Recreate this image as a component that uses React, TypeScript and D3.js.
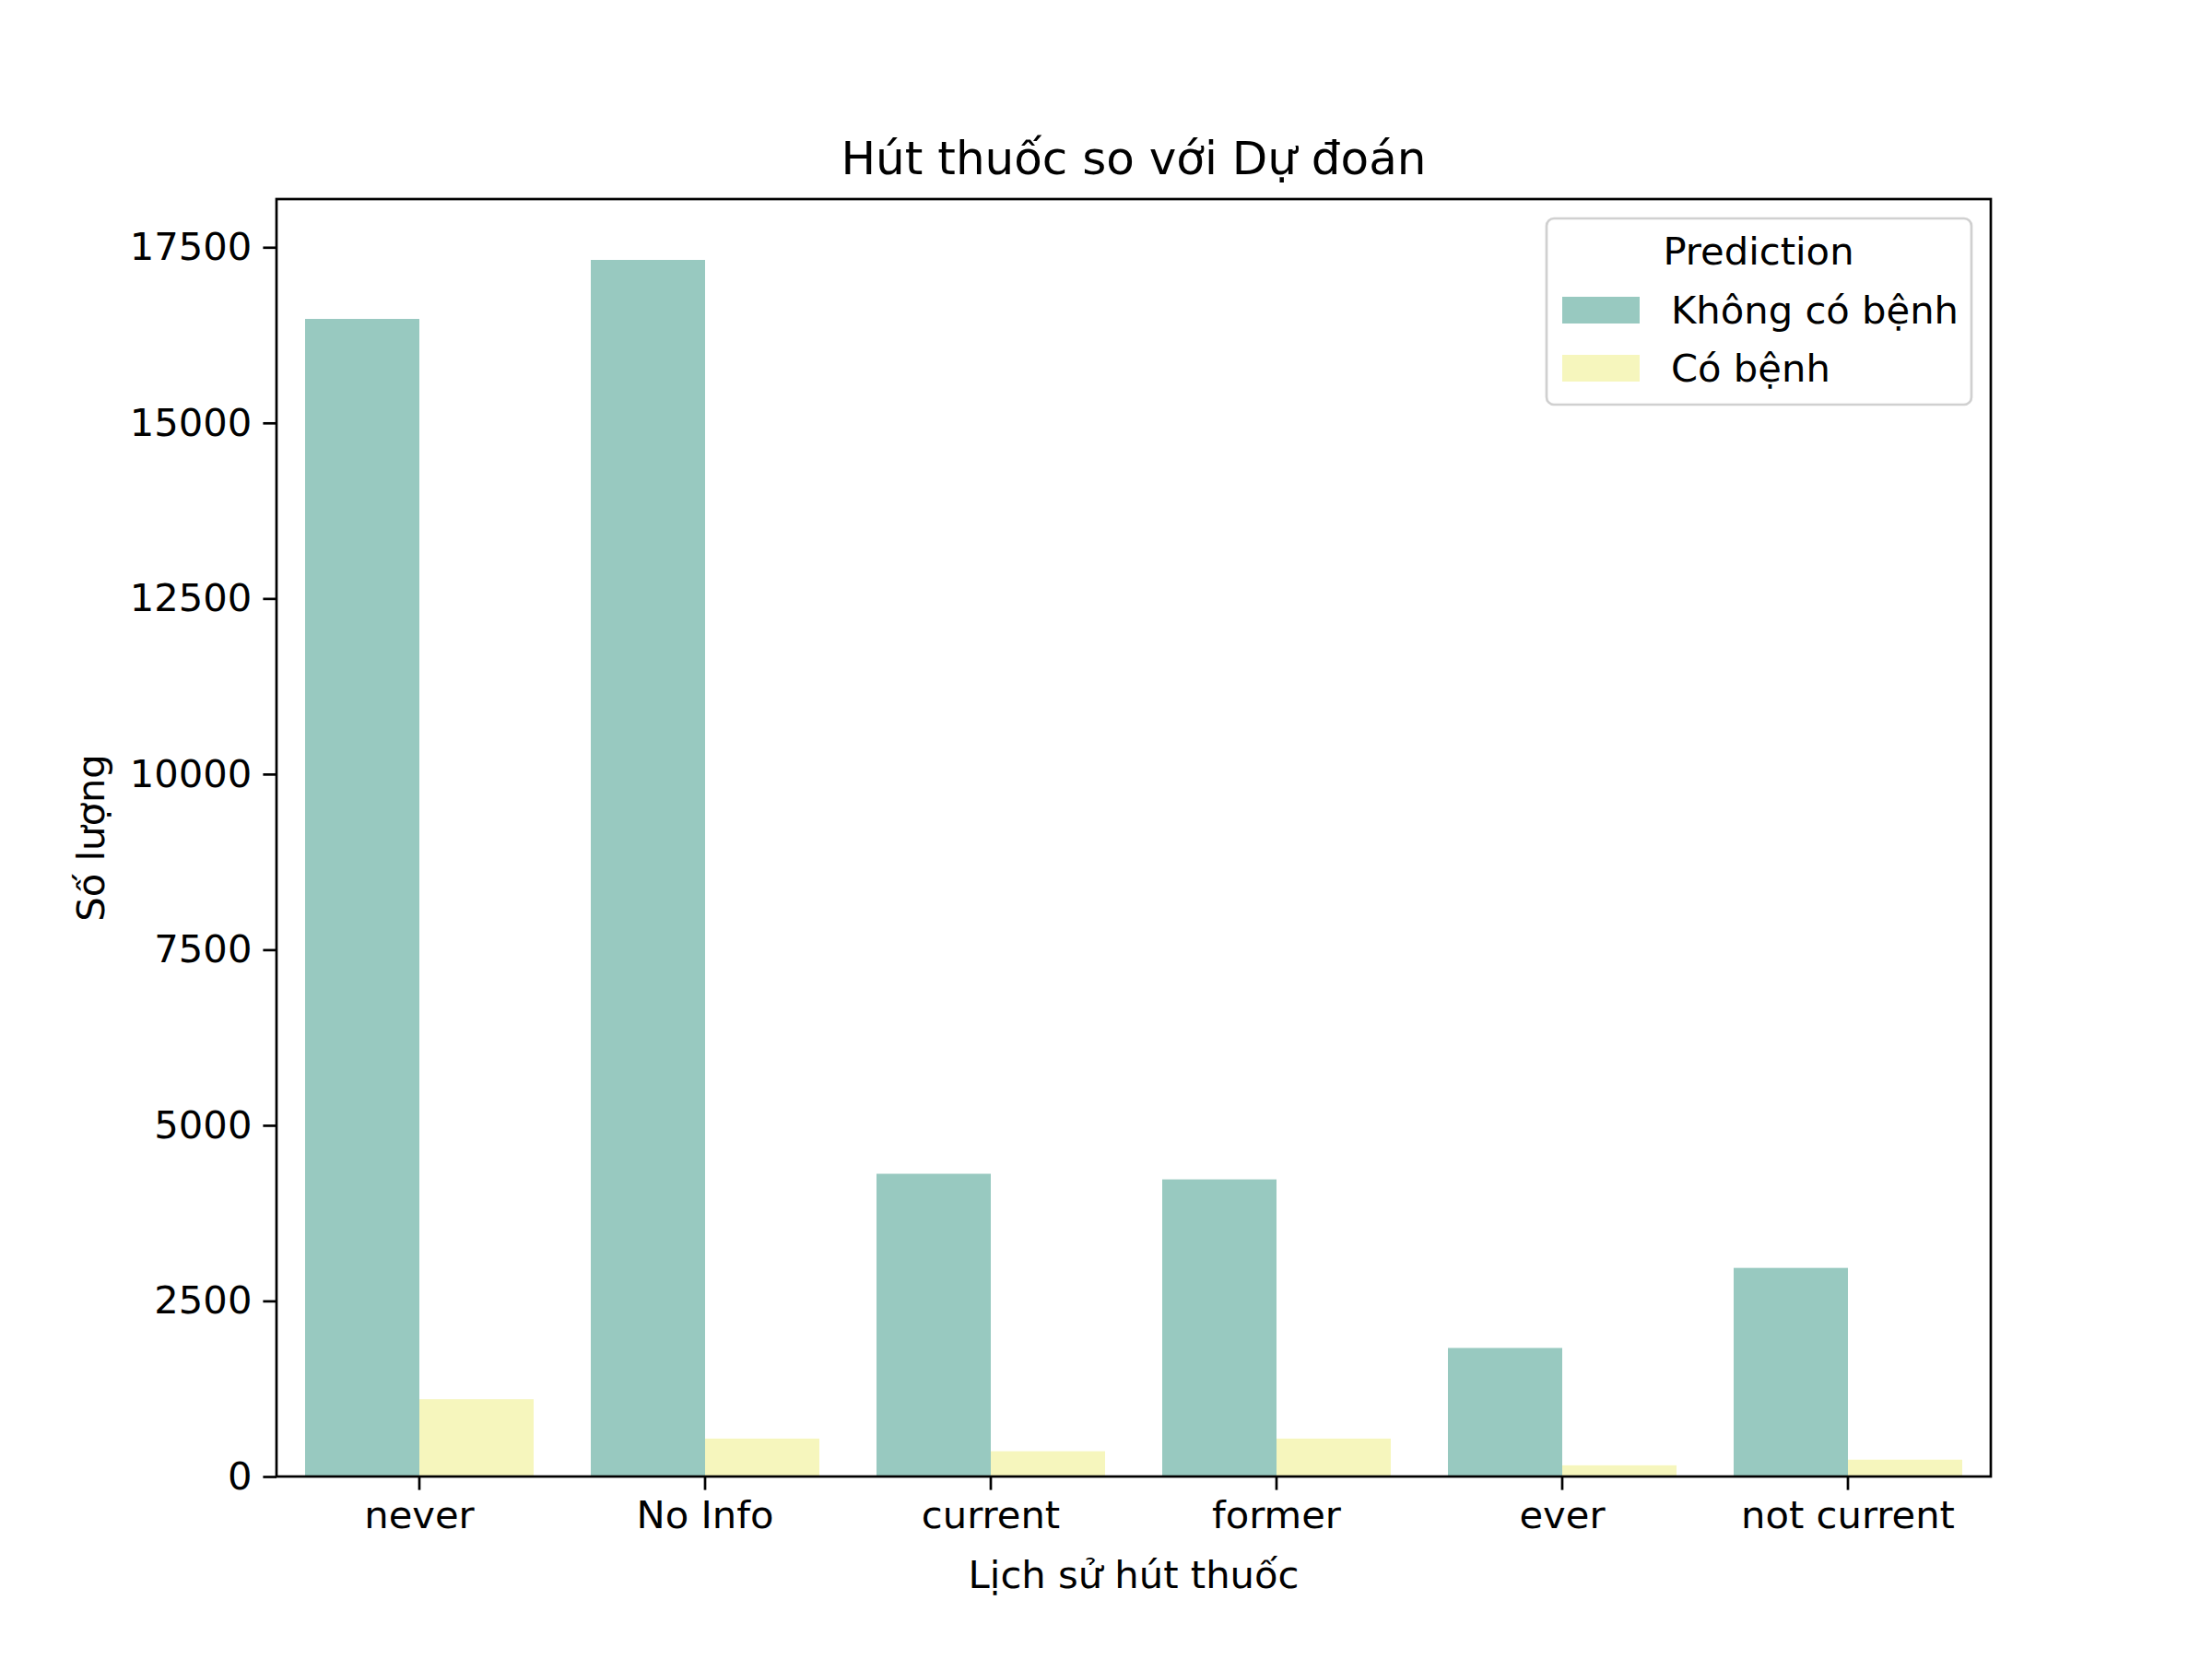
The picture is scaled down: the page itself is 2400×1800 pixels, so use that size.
import { useEffect, useRef } from 'react'
import * as d3 from 'd3'

const categories = ['never', 'No Info', 'current', 'former', 'ever', 'not current']
const noDisease = [16480, 17320, 4310, 4230, 1830, 2970]
const hasDisease = [1100, 540, 360, 540, 160, 240]
const seriesNames = ['Không có bệnh', 'Có bệnh']
const seriesColors = ['#98c9c0', '#f6f6bd']
const yTicks = [0, 2500, 5000, 7500, 10000, 12500, 15000, 17500]

const W = 2400
const H = 1800
const m = { left: 300, right: 2160, top: 216, bottom: 1602 }
const font = 'DejaVu Sans, sans-serif'

export default function App() {
  const ref = useRef<SVGSVGElement>(null)

  useEffect(() => {
    if (!ref.current) return
    const svg = d3.select(ref.current)
    svg.selectAll('*').remove()

    const x = d3.scaleBand<string>().domain(categories).range([m.left, m.right]).padding(0)
    const ymax = d3.max(noDisease)! * 1.05
    const y = d3.scaleLinear().domain([0, ymax]).range([m.bottom, m.top])
    const bw = x.bandwidth() * 0.4

    const series = [noDisease, hasDisease]
    series.forEach((vals, si) => {
      svg
        .append('g')
        .selectAll('rect')
        .data(vals)
        .enter()
        .append('rect')
        .attr('x', (_, i) => x(categories[i])! + x.bandwidth() * 0.1 + si * bw)
        .attr('y', (d) => y(d))
        .attr('width', bw)
        .attr('height', (d) => m.bottom - y(d))
        .attr('fill', seriesColors[si])
    })

    // axes
    const xAxis = svg
      .append('g')
      .attr('transform', `translate(0,${m.bottom})`)
      .call(d3.axisBottom(x).tickSize(14.6).tickPadding(12))
    xAxis.select('.domain').remove()
    xAxis.selectAll('line').attr('stroke', '#000').attr('stroke-width', 2.7)
    xAxis.selectAll('text').style('font', `41.7px ${font}`).attr('fill', '#000')

    const yAxis = svg
      .append('g')
      .attr('transform', `translate(${m.left},0)`)
      .call(d3.axisLeft(y).tickValues(yTicks).tickFormat(d3.format('d')).tickSize(14.6).tickPadding(12))
    yAxis.select('.domain').remove()
    yAxis.selectAll('line').attr('stroke', '#000').attr('stroke-width', 2.7)
    yAxis.selectAll('text').style('font', `41.7px ${font}`).attr('fill', '#000')

    svg
      .append('rect')
      .attr('x', m.left)
      .attr('y', m.top)
      .attr('width', m.right - m.left)
      .attr('height', m.bottom - m.top)
      .attr('fill', 'none')
      .attr('stroke', '#000')
      .attr('stroke-width', 2.7)

    // titles
    svg
      .append('text')
      .attr('x', (m.left + m.right) / 2)
      .attr('y', 189)
      .attr('text-anchor', 'middle')
      .style('font', `50px ${font}`)
      .text('Hút thuốc so với Dự đoán')
    svg
      .append('text')
      .attr('x', (m.left + m.right) / 2)
      .attr('y', 1723)
      .attr('text-anchor', 'middle')
      .style('font', `41.7px ${font}`)
      .text('Lịch sử hút thuốc')
    svg
      .append('text')
      .attr('transform', `translate(113,${(m.top + m.bottom) / 2}) rotate(-90)`)
      .attr('text-anchor', 'middle')
      .style('font', `41.7px ${font}`)
      .text('Số lượng')

    // legend
    const lg = svg.append('g')
    lg.append('rect')
      .attr('x', 1678)
      .attr('y', 237)
      .attr('width', 461)
      .attr('height', 202)
      .attr('rx', 8)
      .attr('fill', '#fff')
      .attr('fill-opacity', 0.8)
      .attr('stroke', '#d0d0d0')
      .attr('stroke-width', 2.7)
    lg.append('text')
      .attr('x', 1908)
      .attr('y', 287)
      .attr('text-anchor', 'middle')
      .style('font', `41.7px ${font}`)
      .text('Prediction')
    seriesNames.forEach((name, i) => {
      const cy = 336 + i * 63
      lg.append('rect')
        .attr('x', 1695)
        .attr('y', cy - 14)
        .attr('width', 84)
        .attr('height', 29)
        .attr('fill', seriesColors[i])
      lg.append('text')
        .attr('x', 1813)
        .attr('y', cy + 15)
        .style('font', `41.7px ${font}`)
        .text(name)
    })
  }, [])

  return (
    <svg
      ref={ref}
      width={W}
      height={H}
      style={{ position: 'absolute', left: 0, top: 0, background: '#fff' }}
    />
  )
}
